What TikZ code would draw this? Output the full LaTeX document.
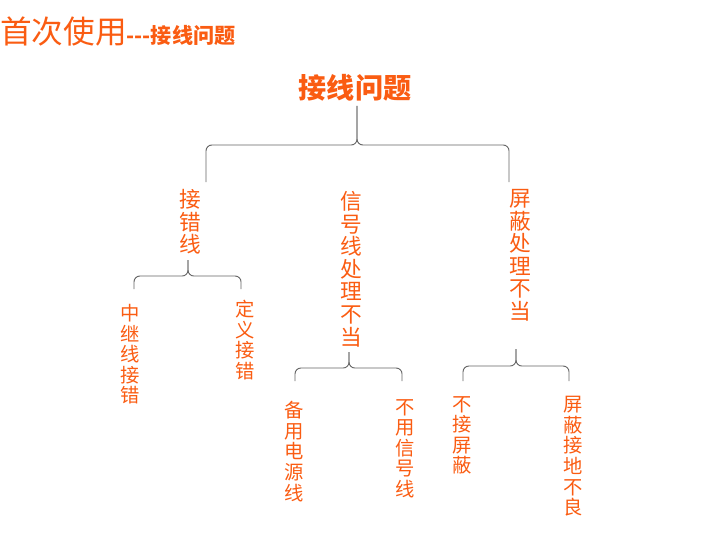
\documentclass[tikz,border=0pt]{standalone}
\usepackage{fontspec}
\newfontfamily\cjk{Noto Sans CJK SC}
\definecolor{hotorange}{RGB}{250,92,18}
\definecolor{bracegray}{RGB}{100,100,100}
\tikzset{
  lbl/.style={text=hotorange, inner sep=0pt, align=center, anchor=north},
  mid/.style={lbl, font=\cjk\fontsize{18.5}{19.3}\selectfont},
  leaf/.style={lbl, font=\cjk\fontsize{16.5}{17.6}\selectfont},
  brace/.style={draw=bracegray, line width=0.8pt, rounded corners=5pt}
}
% one curly brace: peak, horizontal y, left leg, right leg
\newcommand{\cbrace}[4]{%
  \draw[brace] (#3) |- (#1 |- #2) -- (#1);
  \draw[brace] (#4) |- (#1 |- #2) -- (#1);
}
\begin{document}
\begin{tikzpicture}[x=0.03cm,y=-0.03cm]
\useasboundingbox (0,0) rectangle (712,536);

\node[anchor=west, inner sep=0pt, text=hotorange] (title) at (0,31)
  {\cjk\fontsize{27}{29}\selectfont 首次使用\fontsize{18}{20}\selectfont\bfseries ---接线问题};

\node[anchor=center, inner sep=0pt, text=hotorange, font=\cjk\bfseries\fontsize{24}{26}\selectfont] (root) at (355,88) {接线问题};

% second level
\node[mid] (wrong) at (190,189) {接\\错\\线};
\node[mid] (signal) at (351,191) {信\\号\\线\\处\\理\\不\\当};
\node[mid] (shield) at (520,189) {屏\\蔽\\处\\理\\不\\当};

% leaves
\node[leaf] (relay) at (130,304) {中\\继\\线\\接\\错};
\node[leaf] (define) at (245,300) {定\\义\\接\\错};
\node[leaf] (power) at (294,401) {备\\用\\电\\源\\线};
\node[leaf] (nosig) at (405,399) {不\\用\\信\\号\\线};
\node[leaf] (noshd) at (462,396) {不\\接\\屏\\蔽};
\node[leaf] (badgnd) at (573,396) {屏\\蔽\\接\\地\\不\\良};

% braces
\coordinate (p1) at (357,106);
\coordinate (h1) at (0,145);
\coordinate (l1) at (206,182);
\coordinate (r1) at (509,182);
\cbrace{p1}{h1}{l1}{r1}

\coordinate (p2) at (188,260);
\coordinate (h2) at (0,276);
\coordinate (l2) at (134,289);
\coordinate (r2) at (241,289);
\cbrace{p2}{h2}{l2}{r2}

\coordinate (p3) at (349,352);
\coordinate (h3) at (0,368);
\coordinate (l3) at (295,381);
\coordinate (r3) at (402,381);
\cbrace{p3}{h3}{l3}{r3}

\coordinate (p4) at (516,349);
\coordinate (h4) at (0,366);
\coordinate (l4) at (463,381);
\coordinate (r4) at (569,381);
\cbrace{p4}{h4}{l4}{r4}
\end{tikzpicture}
\end{document}
